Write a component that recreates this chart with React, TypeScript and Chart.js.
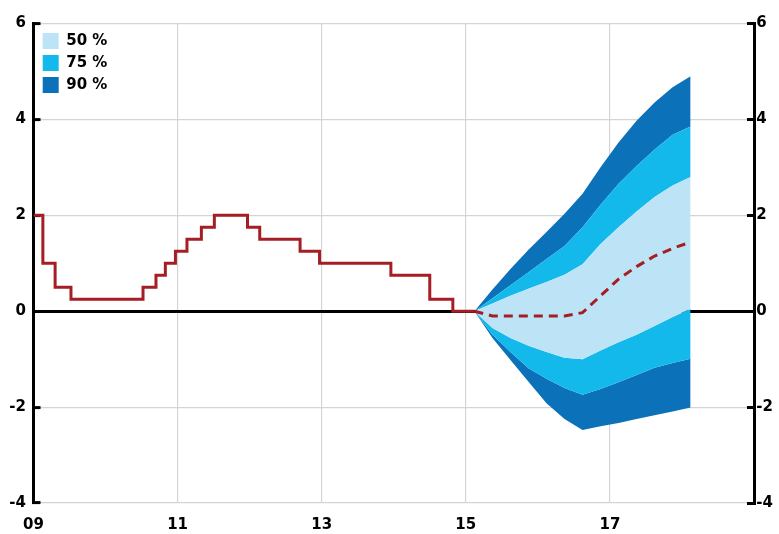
import React, { useEffect, useRef } from "react";
import { Chart, registerables } from "chart.js";

Chart.register(...registerables);

// Policy rate history (date of change, new rate)
const stepDates = [2009.0, 2009.13, 2009.3, 2009.52, 2010.52, 2010.7, 2010.83, 2010.97, 2011.13, 2011.33, 2011.51, 2011.97, 2012.14, 2012.7, 2012.97, 2013.96, 2014.5, 2014.82, 2015.12];
const stepRates = [2.0, 1.0, 0.5, 0.25, 0.5, 0.75, 1.0, 1.25, 1.5, 1.75, 2.0, 1.75, 1.5, 1.25, 1.0, 0.75, 0.25, 0.0, 0.0];

// Forecast quarters
const fanDates = [2015.12, 2015.37, 2015.62, 2015.87, 2016.12, 2016.37, 2016.62, 2016.87, 2017.12, 2017.37, 2017.62, 2017.87, 2018.12];
const forecast = [0, -0.1, -0.1, -0.1, -0.1, -0.1, -0.03, 0.32, 0.67, 0.93, 1.15, 1.31, 1.44];
const upper90 = [0, 0.45, 0.88, 1.28, 1.65, 2.03, 2.45, 3.0, 3.52, 3.97, 4.35, 4.67, 4.9];
const upper75 = [0, 0.27, 0.54, 0.81, 1.09, 1.36, 1.75, 2.22, 2.66, 3.03, 3.37, 3.68, 3.85];
const upper50 = [0, 0.16, 0.32, 0.47, 0.61, 0.76, 0.98, 1.4, 1.75, 2.08, 2.38, 2.62, 2.8];
const lower50 = [0, -0.35, -0.56, -0.72, -0.85, -0.97, -1.0, -0.82, -0.65, -0.49, -0.31, -0.12, 0.05];
const lower75 = [0, -0.49, -0.85, -1.19, -1.41, -1.6, -1.74, -1.62, -1.48, -1.33, -1.18, -1.08, -0.99];
const lower90 = [0, -0.56, -1.02, -1.47, -1.92, -2.25, -2.48, -2.4, -2.33, -2.25, -2.17, -2.09, -2.01];

const bandLabels = ["50 %", "75 %", "90 %"];
const xTickYears = [2009, 2011, 2013, 2015, 2017, 2019];
const xTickLabels = ["09", "11", "13", "15", "17", ""];
const yMin = -4;
const yMax = 6;
const yStep = 2;

const RED = "#A61E25";
const LIGHT = "#BDE3F6";
const MEDIUM = "#14B9EC";
const DARK = "#0B71B8";
const GRID = "#d4d4d4";
const FONT = { family: "'DejaVu Sans', sans-serif", size: 15, weight: "bold" as const };

const pts = (xs: number[], ys: number[]) => xs.map((x, i) => ({ x, y: ys[i] }));

const band = (label: string, ys: number[], color: string, fill: number | false) => ({
  label,
  data: pts(fanDates, ys),
  backgroundColor: color,
  borderColor: color,
  borderWidth: 0,
  pointRadius: 0,
  tension: 0,
  fill,
});

const legendShift = {
  id: "legendShift",
  afterLayout(chart: any) {
    const lg = chart.legend;
    if (lg) {
      const h = lg.bottom - lg.top;
      lg.left = chart.chartArea.left + 3.2;
      lg.top = chart.chartArea.top + 3.5;
      lg.bottom = lg.top + h;
    }
  },
};

export default function App() {
  const ref = useRef<HTMLCanvasElement | null>(null);
  useEffect(() => {
    if (!ref.current) return;
    const chart = new Chart(ref.current, {
      type: "line",
      data: {
        datasets: [
          {
            label: "",
            data: pts(stepDates, stepRates),
            borderColor: RED,
            borderWidth: 3,
            pointRadius: 0,
            stepped: "before",
            fill: false,
          } as any,
          {
            label: "",
            data: pts(fanDates, forecast),
            borderColor: RED,
            borderWidth: 3,
            borderDash: [9, 6],
            pointRadius: 0,
            fill: false,
          },
          band(bandLabels[0], upper50, LIGHT, 5),
          band(bandLabels[1], upper75, MEDIUM, 2),
          band(bandLabels[2], upper90, DARK, 3),
          band("", lower50, MEDIUM, 6),
          band("", lower75, DARK, 7),
          band("", lower90, DARK, false),
        ],
      },
      options: {
        animation: false,
        responsive: true,
        maintainAspectRatio: false,
        events: [],
        layout: { padding: { top: 18.5, left: 0, right: 0, bottom: 0 } },
        plugins: {
          tooltip: { enabled: false },
          legend: {
            position: "chartArea" as any,
            align: "start",
            labels: {
              boxWidth: 16,
              boxHeight: 16,
              padding: 6,
              color: "#000",
              font: FONT,
              filter: (item: any) => bandLabels.includes(item.text),
            },
          },
        },
        scales: {
          x: {
            type: "linear",
            min: 2009,
            max: 2019,
            afterBuildTicks: (scale: any) => {
              scale.ticks = xTickYears.map((v) => ({ value: v }));
            },
            afterFit: (scale: any) => {
              scale.height = 31;
            },
            ticks: {
              autoSkip: false,
              maxRotation: 0,
              padding: 13,
              color: "#000",
              font: FONT,
              callback: (_v: any, i: number) => xTickLabels[i],
            },
            grid: {
              drawTicks: false,
              lineWidth: 1.2,
              color: (ctx: any) =>
                ctx.tick && (ctx.tick.value === 2009 || ctx.tick.value === 2019) ? "rgba(0,0,0,0)" : GRID,
            },
            border: { display: false },
          },
          y: {
            type: "linear",
            position: "left",
            min: yMin,
            max: yMax,
            afterFit: (scale: any) => {
              scale.width = 33.5;
            },
            ticks: { stepSize: yStep, padding: 14.5, color: "#000", font: FONT },
            grid: {
              tickLength: -7,
              tickWidth: 3,
              tickColor: "#000",
              color: (ctx: any) => (ctx.tick && ctx.tick.value === 0 ? "#000" : GRID),
              lineWidth: (ctx: any) => (ctx.tick && ctx.tick.value === 0 ? 3 : 1.2),
            },
            border: { display: true, color: "#000", width: 3 },
          },
          y2: {
            type: "linear",
            position: "right",
            min: yMin,
            max: yMax,
            afterFit: (scale: any) => {
              scale.width = 25;
            },
            ticks: { stepSize: yStep, padding: 9.3, color: "#000", font: FONT },
            grid: {
              drawOnChartArea: false,
              tickLength: -7,
              tickWidth: 3,
              tickColor: "#000",
            },
            border: { display: true, color: "#000", width: 3 },
          },
        },
      },
      plugins: [legendShift],
    });
    return () => chart.destroy();
  }, []);

  return (
    <div style={{ position: "absolute", left: 0, top: 0, width: 779, height: 534, background: "#fff" }}>
      <canvas ref={ref} />
    </div>
  );
}
